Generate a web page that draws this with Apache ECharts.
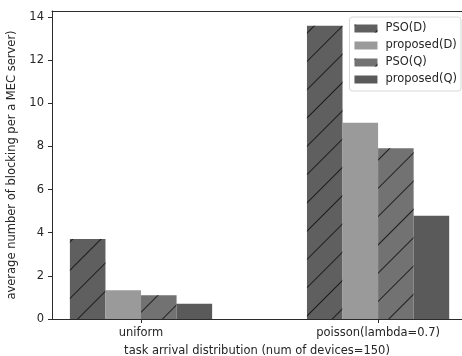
<!DOCTYPE html>
<html>
<head>
<meta charset="utf-8">
<script src="https://cdn.jsdelivr.net/npm/echarts@6/dist/echarts.min.js"></script>
<style>
  html, body { margin: 0; padding: 0; background: #fff; }
  #chart { width: 462px; height: 356px; }
</style>
</head>
<body>
<div id="chart"></div>
<script>
// Grouped bars: blocking count per MEC server under two task arrival patterns
const categories = ['uniform', 'poisson(lambda=0.7)'];
const seriesNames = ['PSO(D)', 'proposed(D)', 'PSO(Q)', 'proposed(Q)'];
const psoD = [3.71, 13.6];
const proposedD = [1.33, 9.1];
const psoQ = [1.1, 7.92];
const proposedQ = [0.71, 4.79];
const yTicks = [0, 2, 4, 6, 8, 10, 12, 14];

const values = [psoD, proposedD, psoQ, proposedQ];
const colors = ['#5f5f5f', '#9a9a9a', '#727272', '#5a5a5a'];
const hatched = [true, false, true, false];

const FONT = 'DejaVu Sans';
const TEXT = '#262626';
const AXIS = '#2b2b2b';
const FS = 11.5;

// four bars of width 0.15 per group, centred on the group index
const barSpan = 0.15;
const offsets = [-1.5, -0.5, 0.5, 1.5].map(k => k * barSpan);

// the plot runs off the right edge of the canvas, so the x range ends early
const xMin = -0.3755, xMax = 1.354;
const gridLeft = 52, gridRight = 0;
const plotWidth = 462 - gridLeft - gridRight;
const barPx = barSpan * plotWidth / (xMax - xMin);

const hatch = {
  symbol: 'rect',
  symbolSize: 1,
  color: 'rgba(15,15,15,0.85)',
  dashArrayX: [1, 0],
  dashArrayY: [1, 19],
  rotation: -Math.PI / 4
};

const series = seriesNames.map((name, s) => {
  const itemStyle = { color: colors[s] };
  if (hatched[s]) itemStyle.decal = hatch;
  return {
    name: name,
    type: 'bar',
    barWidth: barPx,
    barGap: '-100%',
    itemStyle: itemStyle,
    emphasis: { disabled: true },
    data: values[s].map((v, i) => [i + offsets[s], v])
  };
});

const chart = echarts.init(document.getElementById('chart'), null, { renderer: 'canvas' });
chart.setOption({
  animation: false,
  backgroundColor: '#fff',
  grid: {
    left: gridLeft, right: gridRight, top: 11, bottom: 37,
    containLabel: false,
    outerBoundsMode: 'none'
  },
  legend: {
    orient: 'vertical',
    right: 1, top: 17,
    padding: [5, 4, 5, 5],
    backgroundColor: '#fff',
    borderColor: '#d8d8d8',
    borderWidth: 1,
    borderRadius: 3,
    itemWidth: 23, itemHeight: 8,
    itemGap: 4,
    icon: 'rect',
    textStyle: { fontFamily: FONT, fontSize: FS, color: TEXT, lineHeight: 13, padding: [0, 0, 0, 3] },
    data: seriesNames
  },
  xAxis: [{
    type: 'value',
    min: xMin, max: xMax,
    name: 'task arrival distribution (num of devices=150)',
    nameLocation: 'middle',
    nameGap: 26,
    nameTextStyle: { fontFamily: FONT, fontSize: FS, color: TEXT },
    splitLine: { show: false },
    axisLine: { onZero: false, lineStyle: { color: AXIS, width: 1 } },
    axisTick: { show: true, length: 4, lineStyle: { color: AXIS }, customValues: [0, 1] },
    axisLabel: {
      customValues: [0, 1],
      formatter: v => categories[Math.round(v)],
      fontFamily: FONT, fontSize: FS, color: TEXT, margin: 8
    }
  }, {
    // top frame line
    type: 'value',
    position: 'top',
    min: xMin, max: xMax,
    splitLine: { show: false },
    axisLine: { onZero: false, lineStyle: { color: AXIS, width: 1 } },
    axisTick: { show: false },
    axisLabel: { show: false }
  }],
  yAxis: {
    type: 'value',
    min: 0, max: 14.28,
    name: 'average number of blocking per a MEC server)',
    nameLocation: 'middle',
    nameGap: 29,
    nameRotate: 90,
    nameTextStyle: { fontFamily: FONT, fontSize: FS, color: TEXT },
    splitLine: { show: false },
    axisLine: { show: true, onZero: false, lineStyle: { color: AXIS, width: 1 } },
    axisTick: { show: true, length: 4, lineStyle: { color: AXIS }, customValues: yTicks },
    axisLabel: {
      customValues: yTicks,
      fontFamily: FONT, fontSize: FS, color: TEXT, margin: 8
    }
  },
  series: series
});
</script>
</body>
</html>
